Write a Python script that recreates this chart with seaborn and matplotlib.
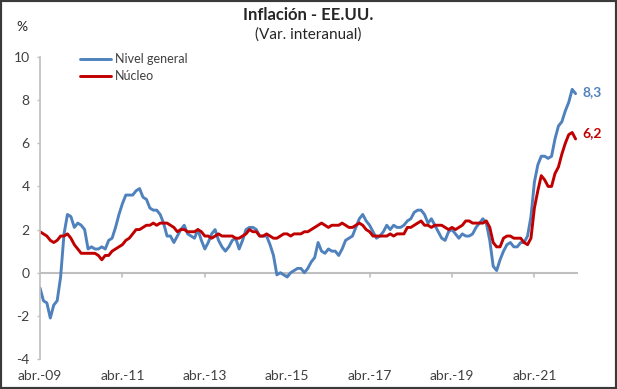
import numpy as np
import pandas as pd
import matplotlib
matplotlib.use("Agg")
import matplotlib.pyplot as plt
import seaborn as sns
from matplotlib.patches import Rectangle
from matplotlib.transforms import blended_transform_factory

# monthly year-on-year rates, abr.-09 .. abr.-22
headline = [
    -0.7, -1.3, -1.4, -2.1, -1.5, -1.3, -0.2, 1.8, 2.7,                 # 2009 Apr-Dec
    2.6, 2.1, 2.3, 2.2, 2.0, 1.1, 1.2, 1.1, 1.1, 1.2, 1.1, 1.5,         # 2010
    1.6, 2.1, 2.7, 3.2, 3.6, 3.6, 3.6, 3.8, 3.9, 3.5, 3.4, 3.0,         # 2011
    2.9, 2.9, 2.7, 2.3, 1.7, 1.7, 1.4, 1.7, 2.0, 2.2, 1.8, 1.7,         # 2012
    1.6, 2.0, 1.5, 1.1, 1.4, 1.8, 2.0, 1.5, 1.2, 1.0, 1.2, 1.5,         # 2013
    1.6, 1.1, 1.5, 2.0, 2.1, 2.1, 2.0, 1.7, 1.7, 1.7, 1.3, 0.8,         # 2014
    -0.1, 0.0, -0.1, -0.2, 0.0, 0.1, 0.2, 0.2, 0.0, 0.2, 0.5, 0.7,      # 2015
    1.4, 1.0, 0.9, 1.1, 1.0, 1.0, 0.8, 1.1, 1.5, 1.6, 1.7, 2.1,         # 2016
    2.5, 2.7, 2.4, 2.2, 1.9, 1.6, 1.7, 1.9, 2.2, 2.0, 2.2, 2.1,         # 2017
    2.1, 2.2, 2.4, 2.5, 2.8, 2.9, 2.9, 2.7, 2.3, 2.5, 2.2, 1.9,         # 2018
    1.6, 1.5, 1.9, 2.0, 1.8, 1.6, 1.8, 1.7, 1.7, 1.8, 2.1, 2.3,         # 2019
    2.5, 2.3, 1.5, 0.3, 0.1, 0.6, 1.0, 1.3, 1.4, 1.2, 1.2, 1.4,         # 2020
    1.4, 1.7, 2.6, 4.2, 5.0, 5.4, 5.4, 5.3, 5.4, 6.2, 6.8, 7.0,         # 2021
    7.5, 7.9, 8.5, 8.3,                                                 # 2022
]
core = [
    1.9, 1.8, 1.7, 1.5, 1.4, 1.5, 1.7, 1.7, 1.8,                        # 2009 Apr-Dec
    1.6, 1.3, 1.1, 0.9, 0.9, 0.9, 0.9, 0.9, 0.8, 0.6, 0.8, 0.8,         # 2010
    1.0, 1.1, 1.2, 1.3, 1.5, 1.6, 1.8, 2.0, 2.0, 2.1, 2.2, 2.2,         # 2011
    2.3, 2.2, 2.3, 2.3, 2.3, 2.2, 2.1, 1.9, 2.0, 2.0, 1.9, 1.9,         # 2012
    1.9, 2.0, 1.9, 1.7, 1.7, 1.6, 1.7, 1.8, 1.7, 1.7, 1.7, 1.7,         # 2013
    1.6, 1.6, 1.7, 1.8, 2.0, 1.9, 1.9, 1.7, 1.7, 1.8, 1.7, 1.6,         # 2014
    1.6, 1.7, 1.8, 1.8, 1.7, 1.8, 1.8, 1.8, 1.9, 1.9, 2.0, 2.1,         # 2015
    2.2, 2.3, 2.2, 2.1, 2.2, 2.2, 2.2, 2.3, 2.2, 2.1, 2.1, 2.2,         # 2016
    2.3, 2.2, 2.0, 1.9, 1.7, 1.7, 1.7, 1.7, 1.7, 1.8, 1.7, 1.8,         # 2017
    1.8, 1.8, 2.1, 2.1, 2.2, 2.3, 2.4, 2.2, 2.2, 2.1, 2.2, 2.2,         # 2018
    2.2, 2.1, 2.0, 2.1, 2.0, 2.1, 2.2, 2.4, 2.4, 2.3, 2.3, 2.3,         # 2019
    2.3, 2.4, 2.1, 1.4, 1.2, 1.2, 1.6, 1.7, 1.7, 1.6, 1.6, 1.6,         # 2020
    1.4, 1.3, 1.6, 3.0, 3.8, 4.5, 4.3, 4.0, 4.0, 4.6, 4.9, 5.5,         # 2021
    6.0, 6.4, 6.5, 6.2,                                                 # 2022
]
tick_labels = ["abr.-09", "abr.-11", "abr.-13", "abr.-15", "abr.-17", "abr.-19", "abr.-21"]
series_names = ["Nivel general", "Núcleo"]
end_labels = ["8,3", "6,2"]

blue = "#4F81BD"
red = "#C00000"
grey = "#BFBFBF"
text_col = "#404040"

n = len(headline)
df = pd.DataFrame({
    "mes": list(range(n)) * 2,
    "valor": headline + core,
    "serie": [series_names[0]] * n + [series_names[1]] * n,
})

sns.set_style("white")
plt.rcParams["font.family"] = ["Lato", "DejaVu Sans"]

fig = plt.figure(figsize=(6.17, 3.89), dpi=100)
ax = fig.add_axes([40 / 617, 1 - 359 / 389, 538 / 617, (359 - 57) / 389])

sns.lineplot(data=df, x="mes", y="valor", hue="serie", palette=[blue, red],
             linewidth=2.1, ax=ax, legend=True)

ax.set_xlim(0, n - 0.3)
ax.set_ylim(-4, 10)
ax.set_yticks(range(-4, 11, 2))
ax.set_yticklabels([str(v) for v in range(-4, 11, 2)], fontsize=10, color=text_col)
ax.tick_params(axis="y", length=2.5, color=grey, width=1, pad=5, left=True)
ax.set_xlabel("")
ax.set_ylabel("")

for s in ["top", "right", "bottom"]:
    ax.spines[s].set_visible(False)
ax.spines["left"].set_color(grey)
ax.spines["left"].set_linewidth(1.2)

# zero line with tick marks; labels at bottom of the axes
ax.axhline(0, color=grey, linewidth=1.5, zorder=0)
tick_pos = list(range(0, n, 24))
ax.set_xticks([])
trans = blended_transform_factory(ax.transData, ax.transAxes)
for pos, lab in zip(tick_pos, tick_labels):
    if pos > 0:
        ax.plot([pos, pos], [0, -0.2], color=grey, linewidth=1.2, zorder=0)
    ax.text(pos, -0.035, lab, transform=trans, ha="center", va="top",
            fontsize=10, color=text_col)

# end-point labels
for vals, lab, col, dy in [(headline, end_labels[0], blue, 1), (core, end_labels[1], red, 4.5)]:
    ax.annotate(lab, xy=(n - 1, vals[-1]), xytext=(5, dy), textcoords="offset points",
                ha="left", va="center", fontsize=10, fontweight="bold", color=col,
                annotation_clip=False)

leg = ax.legend(loc="upper left", bbox_to_anchor=(0.054, 1.05), frameon=False,
                fontsize=9, handlelength=2.45, handletextpad=0.3, labelspacing=0.4)
for t in leg.get_texts():
    t.set_color(text_col)

fig.text(0.5, 1 - 15 / 389, "Inflación - EE.UU.", ha="center", va="center",
         fontsize=12, fontweight="bold", color="#262626")
fig.text(0.5, 1 - 35 / 389, "(Var. interanual)", ha="center", va="center",
         fontsize=11, color="#262626")
fig.text(22 / 617, 1 - 27 / 389, "%", ha="center", va="center", fontsize=10, color="#262626")

fig.patches.append(Rectangle((0, 0), 1, 1, transform=fig.transFigure, fill=False,
                             edgecolor="#3A3A3A", linewidth=3, zorder=10))

fig.savefig("out.png", dpi=100)
